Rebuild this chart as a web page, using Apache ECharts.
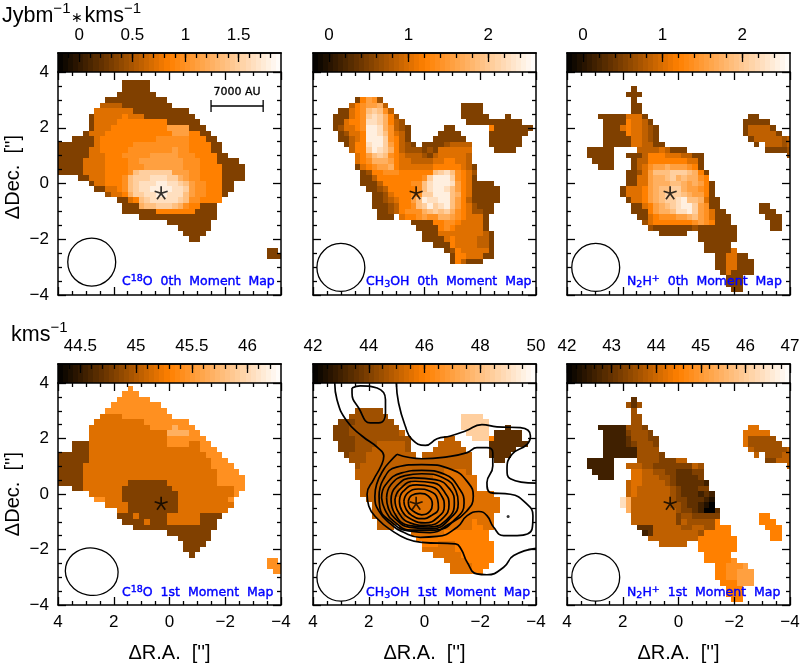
<!DOCTYPE html>
<html>

<head>
    <title>Moment maps</title>
    <meta charset="utf-8">
    <script src="https://cdnjs.cloudflare.com/ajax/libs/echarts/6.0.0/echarts.min.js"></script>
    <style>
        body { margin: 0; background: #fff; }
    </style>
</head>

<body>
    <div id="main" style="width: 803px;height:664px;"></div>

    <script type="text/javascript">
        // maps are read off the picture, one string per row (Dec = 4 - 0.2*row), one char per column (R.A. = 4 - 0.2*col)
        // char = 16ths of the colorbar range, '.' = blank, spaces only help counting
        var levelChars = '0123456789abcdefg';

        var c18oMom0 = [
            '', '',
            '..... ..... ..444 44',
            '..... ..... ..444 44',
            '..... ..... .4444 444',
            '..... ....4 44444 44444',
            '..... ...66 66444 44444 4',
            '..... ..777 77774 44444 4444',
            '..... .4777 77877 74444 44444',
            '..... .4777 78888 88888 44444 4',
            '..... .4777 88888 88888 aaaa4 44',
            '..... 47778 88888 88888 8aaa8 844',
            '...44 44788 88888 88899 99998 8844',
            '44444 44788 88889 99999 99998 88844',
            '44444 47788 88899 99999 9a998 88844',
            '44444 47778 88999 99aaa aa999 88884 4',
            '44444 77778 88899 aaaaa aaa99 98884 444',
            '44444 77778 88899 9aaaa aaa99 98888 4444',
            '44444 77778 8889c ddddd daaa9 98888 4444',
            '....4 47778 889cd ddeee ddba9 98888 4444',
            '..... .4778 889cd eeeff eedca 99888 44',
            '..... ..447 789cd eefff feeda 99888 44',
            '..... ....5 778bd deeff eeeca 99888 4',
            '..... ..... .4478 cdeee eedc9 98888',
            '..... ..... ..444 bccdd dcb98 8444',
            '..... ..... ..444 44488 88888 4444',
            '..... ..... ..... 44444 44444 4444',
            '..... ..... ..... ..... 44444 444',
            '..... ..... ..... ..... ..444 444',
            '..... ..... ..... ..... ...44 44',
            '..... ..... ..... ..... ....4 4',
            '',
            '..... ..... ..... ..... ..... ..... ..... ...44',
            '..... ..... ..... ..... ..... ..... ..... ...44 4'
        ];

        var ch3ohMom0 = [
            '', '', '', '', '',
            '..... ...48 a95',
            '..... ..689 aab6. ..... ..... ..444 4',
            '..... 44789 cdc96 ..... ..... ..444 4',
            '....4 44789 dedb8 5.... ..... ..444 44... 4',
            '....4 47889 eedb8 65... ..... ...44 44444 444',
            '....4 57789 ffeb9 654.. ....4 4.... ..844 44444',
            '..... 45778 ffec9 764.. ...44 44... ..444 4444',
            '..... 44678 fffd9 864.. ..444 444.. ..444 444',
            '..... .4688 effda 8654. 44445 6666. ..444 444',
            '..... ..688 dfedb 86555 45477 7777. ...44 44',
            '..... ...78 acdc9 87666 54677 7776',
            '..... ...78 9bbba 87766 66778 8776',
            '..... ...47 89aab 87777 77888 88764',
            '..... ....4 58899 98888 88cde c9875',
            '..... ....4 46888 88888 9dfff d9874',
            '..... ....4 44688 88899 cefff ea874 444',
            '..... ..... 44568 88889 ceffe ca874 4444',
            '..... ..... .4457 88899 ddfff cb874 4444',
            '..... ..... .4456 788ac feeff ca864 4444',
            '..... ..... .4445 6889c dfdef ca875 444',
            '..... ..... ..445 68999 bcdcd b9875 544',
            '..... ..... ..444 .7889 a99bb a9877 74',
            '..... ..... ..... ...44 44889 98777 74',
            '..... ..... ..... ....4 44489 87777 74',
            '..... ..... ..... ..... 44477 77777 764',
            '..... ..... ..... ..... 44447 87777 664',
            '..... ..... ..... ..... ..444 87777 664',
            '..... ..... ..... ..... ....4 58777 774',
            '..... ..... ..... ..... ..... 48877 744',
            '..... ..... ..... ..... ..... 48644 4'
        ];

        var n2hMom0 = [
            '', '', '',
            '..... ..... ..4',
            '..... ..... .444',
            '..... ..... ..4',
            '..... ..... ..44',
            '..... ..... ..44',
            '..... .4444 47774 ..... ..... ..... ...44',
            '..... ..444 48776 4.... ..... ..... ..444 44',
            '..... ..444 78776 54... ..... ..... ..466 664',
            '..... ..444 48776 54... ..... ..... ..466 6664',
            '..... ..444 44776 54... ..... ..... ...46 66665 6',
            '..... ..444 44776 644.. ..... ..... ....4 .6665 6',
            '....4 4444. ...66 66764 44... ..... ..... .4444 5',
            '....4 4444. .4446 88877 76644 ..... ..... ..... 5',
            '..... 4444. ..466 88888 88774',
            '..... .444. ..467 9aaba aa984',
            '..... ..... .4457 acccd ddcb8 4',
            '..... ..... .4477 abbcd bcbb9 8',
            '..... ..... .4477 abbbc cbaba 84',
            '..... ..... 47778 abccd dbaa9 84',
            '..... ..... 47778 abcdd dcbaa 84',
            '..... ..... .4778 abcdd efccb 744',
            '..... ..... ..447 8abcd effda 944.. ..... 44',
            '..... ..... ..444 8abbc eefda 9744. ..... 444',
            '..... ..... ...44 78999 aabca 97444 ..... .444',
            '..... ..... ....5 78888 8889a 98444 ..... ..44',
            '..... ..... ..... 54444 44454 44444 4.... ..44',
            '..... ..... ..... ..444 44..4 44444 4',
            '..... ..... ..... ..... ....4 44444 4',
            '..... ..... ..... ..... ..... 44444',
            '..... ..... ..... ..... ..... 44444 7',
            '..... ..... ..... ..... ..... ..447 744',
            '..... ..... ..... ..... ..... ..447 7444',
            '..... ..... ..... ..... ..... ..447 7444',
            '..... ..... ..... ..... ..... ...47 4444',
            '..... ..... ..... ..... ..... ....4 44',
            '..... ..... ..... ..... ..... ....4 44',
            '..... ..... ..... ..... ..... ..... 44'
        ];

        var c18oMom1 = [
            '',
            '..... ..... ...9',
            '..... ..... ..999',
            '..... ..... .9999 99',
            '..... ..... 99999 9999',
            '..... ....9 99999 99999',
            '..... ...77 77999 99999 9',
            '..... ..777 77777 79999 9999',
            '..... .7777 77777 77999 9b999',
            '..... .7777 77777 77777 bbbb9 9',
            '..... .7777 77777 77777 99999 99',
            '...44 47777 77777 77777 99997 799',
            '...44 47777 77777 77777 77777 7999',
            '44444 47777 77777 77777 77777 77999',
            '44444 47777 77777 77777 77777 77799 9',
            '44444 77777 77777 77777 77777 77799 99',
            '44444 77777 77777 77777 77777 77779 999',
            '44444 77777 77777 77777 77777 77779 9999',
            '44444 77777 77744 44444 77777 77779 9999',
            '...44 77777 77444 44444 47777 77777 7799',
            '..... .7777 77444 44444 44777 77777 779',
            '..... ..997 77444 44444 44777 77777 79',
            '..... ....7 77744 44444 44777 77777 77',
            '..... ..... .7744 44444 44777 77777 7',
            '..... ..... .4447 44444 77777 74444',
            '..... ..... ..444 47444 77777 7444',
            '..... ..... ....4 44444 44444 4444',
            '..... ..... ..... ..... 44444 444',
            '..... ..... ..... ..... ..444 444',
            '..... ..... ..... ..... ...44 44',
            '..... ..... ..... ..... ...44 4',
            '..... ..... ..... ..... ....4',
            '..... ..... ..... ..... ..... ..... ..... ...99',
            '..... ..... ..... ..... ..... ..... ..... ...99 9',
            '..... ..... ..... ..... ..... ..... ..... ....9 9'
        ];

        var ch3ohMom1 = [
            '', '', '', '', '',
            '..... ...55 555',
            '..... ..555 5555. ..... ..... ..ddd d',
            '..... 44455 55555 ..... ..... ..ddd dd',
            '....4 44555 55555 5.... ..... ..ddd dd... 3',
            '....4 44555 55555 56... ..... ...dd dd.33 333',
            '....4 44455 55555 555.. ....6 6...d dd833 333',
            '..... 44455 55666 665.. ...66 66... ..333 3333',
            '..... 44455 56666 665.. ..666 666.. ..333 33',
            '..... .4555 66666 6666. 66666 6666. ..333 3',
            '..... ..555 66666 66666 66666 6666. ...33',
            '..... ...56 66666 66666 66666 6666',
            '..... ...66 66666 66666 66667 7776',
            '..... ...66 66666 66666 66777 77777',
            '..... ....6 66666 66677 77777 77777',
            '..... ....6 66666 67777 77777 77777',
            '..... ....6 66666 67777 77777 77777 777',
            '..... ..... 66666 77777 77777 77777 7777',
            '..... ..... .6666 77777 77777 77777 7777',
            '..... ..... .6666 77777 77777 77777 7777',
            '..... ..... .6666 66777 77777 77777 777',
            '..... ..... ..666 66777 77777 77778 777',
            '..... ..... ..666 .6777 77777 77778 877',
            '..... ..... ..... ...77 77778 88888 88',
            '..... ..... ..... ....8 88888 88888 88',
            '..... ..... ..... ..... 88877 78888 888',
            '..... ..... ..... ..... 77777 78888 888',
            '..... ..... ..... ..... ..777 77888 888',
            '..... ..... ..... ..... ....7 77788 888',
            '..... ..... ..... ..... ..... 77778 88',
            '..... ..... ..... ..... ..... 77778 8'
        ];

        var n2hMom1 = [
            '', '', '',
            '..... ..... ..3',
            '..... ..... .535',
            '..... ..... ..5',
            '..... ..... ..55',
            '..... ..... ..55',
            '..... .2222 25554 ..... ..... ..... ...77',
            '..... ..222 24555 4.... ..... ..... ..777 77',
            '..... ..222 23555 44... ..... ..... ..755 555',
            '..... ..222 23455 54... ..... ..... ..755 5555',
            '..... ..222 22255 55... ..... ..... ...65 55555 6',
            '..... ..222 22255 554.. ..... ..... ....6 .5556 6',
            '....2 2222. ...55 55444 66... ..... ..... .4466 6',
            '....2 2222. .6665 54444 44465 ..... ..... ..... 6',
            '..... 2222. ..776 65544 33344',
            '..... .222. ..776 66554 33334',
            '..... ..... .6776 66654 33333 2',
            '..... ..... .6766 66665 43334 4',
            '..... ..... .6766 66665 43332 32',
            '..... ..... eb666 66665 44333 21',
            '..... ..... eb666 66665 54332 10',
            '..... ..... .b666 66666 54432 003',
            '..... ..... ..666 66666 45544 444.. ..... 88',
            '..... ..... ..666 66666 46555 558.. ..... 888',
            '..... ..... ...33 36666 65566 55888 ..... .888',
            '..... ..... ....2 36666 66665 88888 ..... ..88',
            '..... ..... ..... 66666 66668 88888 8.... ..88',
            '..... ..... ..... ..666 66..8 88888 8',
            '..... ..... ..... ..... ....8 88888 8',
            '..... ..... ..... ..... ..... 88888',
            '..... ..... ..... ..... ..... 88888 9',
            '..... ..... ..... ..... ..... ..889 99a',
            '..... ..... ..... ..... ..... ..889 9aaa',
            '..... ..... ..... ..... ..... ..889 9aaa',
            '..... ..... ..... ..... ..... ...88 8aaa',
            '..... ..... ..... ..... ..... ....8 88',
            '..... ..... ..... ..... ..... ....8 88',
            '..... ..... ..... ..... ..... ..... 88'
        ];

        // colorbar ranges and ticks
        var barRanges = [[-0.2, 1.9], [-0.2, 2.6], [-0.2, 2.6], [44.3, 46.3], [42, 50], [42, 47]];
        var barLabels = [
            [0, 0.5, 1, 1.5],
            [0, 1, 2],
            [0, 1, 2],
            [44.5, 45, 45.5, 46],
            [42, 44, 46, 48, 50],
            [42, 43, 44, 45, 46, 47]
        ];
        var barMinor = [
            [-0.1, 0, 0.1, 0.2, 0.3, 0.4, 0.5, 0.6, 0.7, 0.8, 0.9, 1, 1.1, 1.2, 1.3, 1.4, 1.5, 1.6, 1.7, 1.8],
            [0, 0.2, 0.4, 0.6, 0.8, 1, 1.2, 1.4, 1.6, 1.8, 2, 2.2, 2.4],
            [0, 0.2, 0.4, 0.6, 0.8, 1, 1.2, 1.4, 1.6, 1.8, 2, 2.2, 2.4],
            [44.4, 44.5, 44.6, 44.7, 44.8, 44.9, 45, 45.1, 45.2, 45.3, 45.4, 45.5, 45.6, 45.7, 45.8, 45.9, 46, 46.1, 46.2],
            [42.5, 43, 43.5, 44, 44.5, 45, 45.5, 46, 46.5, 47, 47.5, 48, 48.5, 49, 49.5],
            [42.2, 42.4, 42.6, 42.8, 43, 43.2, 43.4, 43.6, 43.8, 44, 44.2, 44.4, 44.6, 44.8, 45, 45.2, 45.4, 45.6, 45.8, 46, 46.2, 46.4, 46.6, 46.8]
        ];

        // beam: ra, dec, radius ra, radius dec, tilt
        var beams = [
            [2.79, -2.82, 0.86, 0.86, 0],
            [3.0, -3.01, 0.86, 0.86, 0],
            [2.97, -3.01, 0.86, 0.86, 0],
            [2.79, -2.8, 0.95, 0.85, -0.2],
            [3.0, -3.0, 0.86, 0.86, 0],
            [2.97, -3.0, 0.86, 0.86, 0]
        ];
        var starPos = [0.3, -0.33];
        var scaleBar = [-1.49, -3.36, 2.78];
        var scaleBarText = '7000 AU';

        // CH3OH contours on the 1st moment panel, [ra, dec]
        var contourOpen1 = [[3.22, 4], [3.14, 3.40], [2.78, 2.62], [2.24, 2.09], [1.68, 1.67], [1.46, 1.37], [1.56, 1.01], [1.82, 0.53], [2.06, -0.01], [2.00, -0.43], [1.68, -0.90], [1.17, -1.32], [0.63, -1.62], [0.09, -1.74], [-1.11, -1.80], [-1.31, -1.98], [-1.53, -2.46], [-1.88, -2.88], [-2.24, -2.91], [-2.84, -2.64], [-3.20, -2.22], [-4, -1.96]];
        var contourOpen2 = [[1.01, 4], [0.93, 3.28], [0.69, 2.45], [0.45, 1.97], [-0.03, 1.75], [-0.45, 1.99], [-0.93, 2.09], [-1.47, 2.27], [-2.06, 2.50], [-2.60, 2.42], [-3.44, 2.39], [-3.80, 2.09], [-3.68, 1.79], [-3.14, 1.43], [-2.96, 0.89], [-3.08, 0.55], [-4, 0.39]];
        var contourTop = [[2.60, 3.82], [2.30, 3.90], [1.70, 3.82], [1.40, 3.40], [1.40, 2.92], [1.64, 2.56], [1.94, 2.56], [2.36, 3.10], [2.60, 3.64], [2.60, 3.82]];
        var contourWide = [[0.99, 1.43], [0.09, 1.27], [-0.81, 1.34], [-1.53, 1.49], [-1.88, 1.67], [-2.24, 1.67], [-2.45, 1.49], [-2.45, 1.01], [-2.24, 0.41], [-2.36, 0.05], [-3.08, -0.01], [-3.62, -0.31], [-3.89, -0.78], [-3.86, -1.26], [-3.32, -1.50], [-2.84, -1.50], [-2.48, -1.20], [-2.24, -0.78], [-1.95, -0.63], [-1.53, -0.78], [-1.17, -1.20], [-0.45, -1.53], [0.15, -1.56], [0.75, -1.38], [1.22, -1.08], [1.64, -0.61], [1.78, -0.08], [1.72, 0.34], [1.46, 0.89], [1.22, 1.19], [0.99, 1.43]];
        var contourRings = [
            [[1.63, -0.08], [1.48, 0.52], [1.00, 0.97], [0.10, 1.06], [-0.98, 0.88], [-1.57, 0.40], [-1.75, -0.08], [-1.51, -0.62], [-0.85, -1.10], [-0.20, -1.39], [0.58, -1.33], [1.24, -0.97], [1.60, -0.50], [1.63, -0.08]],
            [[1.54, -0.14], [1.39, 0.34], [0.82, 0.76], [0.10, 0.85], [-0.74, 0.70], [-1.27, 0.16], [-1.42, -0.32], [-1.15, -0.86], [-0.38, -1.30], [0.46, -1.30], [1.12, -0.97], [1.42, -0.56], [1.54, -0.14]],
            [[1.36, -0.14], [1.20, 0.34], [0.70, 0.66], [0.10, 0.73], [-0.68, 0.58], [-1.13, 0.10], [-1.21, -0.32], [-0.98, -0.82], [-0.26, -1.25], [0.52, -1.20], [1.08, -0.86], [1.30, -0.50], [1.36, -0.14]],
            [[1.20, -0.20], [1.03, 0.26], [0.40, 0.58], [-0.38, 0.52], [-0.92, 0.16], [-1.07, -0.32], [-0.80, -0.92], [-0.14, -1.19], [0.58, -1.13], [1.08, -0.68], [1.20, -0.20]],
            [[1.06, -0.20], [0.88, 0.18], [0.34, 0.46], [-0.32, 0.40], [-0.74, 0.04], [-0.88, -0.38], [-0.64, -0.89], [-0.08, -1.13], [0.52, -1.04], [0.94, -0.65], [1.06, -0.20]],
            [[0.90, -0.26], [0.76, 0.10], [0.28, 0.33], [-0.26, 0.26], [-0.62, -0.08], [-0.71, -0.44], [-0.50, -0.82], [-0.02, -1.04], [0.46, -0.92], [0.80, -0.62], [0.90, -0.26]],
            [[0.74, -0.26], [0.60, 0.04], [0.22, 0.18], [-0.20, 0.10], [-0.47, -0.20], [-0.50, -0.50], [-0.26, -0.77], [0.10, -0.89], [0.46, -0.77], [0.67, -0.53], [0.74, -0.26]],
            [[0.58, -0.26], [0.46, -0.05], [0.16, 0.02], [-0.14, -0.08], [-0.28, -0.38], [-0.20, -0.62], [0.10, -0.75], [0.40, -0.62], [0.56, -0.44], [0.58, -0.26]]
        ];
        var contourDot = [[-3.0, -0.81]];

        var mapRows = [c18oMom0, ch3ohMom0, n2hMom0, c18oMom1, ch3ohMom1, n2hMom1];
        var panelLeft = [58, 313, 567, 58, 313, 567];
        var panelTop = [72, 72, 72, 383, 383, 383];
        var panelLabels = [
            '{t|C}{u|18}{t|O  0th  Moment  Map}',
            '{t|CH}{d|3}{t|OH  0th  Moment  Map}',
            '{t|N}{d|2}{t|H}{u|+}{t|  0th  Moment  Map}',
            '{t|C}{u|18}{t|O  1st  Moment  Map}',
            '{t|CH}{d|3}{t|OH  1st  Moment  Map}',
            '{t|N}{d|2}{t|H}{u|+}{t|  1st  Moment  Map}'
        ];
        var labelLeft = [122, 366, 627, 122, 366, 627];
        var labelTop = [274, 274, 274, 585, 585, 585];

        var plotSize = 223;
        var barHeight = 19;
        var axisZ = 8;
        var fontName = '"Liberation Sans", sans-serif';
        var tickFont = 17;

        function toCells(rows, range) {
            var cells = [];
            rows.forEach(function(row, r) {
                row.replace(/ /g, '').split('').forEach(function(ch, c) {
                    if (ch === '.') return;
                    cells.push([4 - 0.2 * c, 4 - 0.2 * r, range[0] + levelChars.indexOf(ch) / 16 * (range[1] - range[0])]);
                });
            });
            return cells;
        }

        function renderCell(params, api) {
            var p = api.coord([api.value(0), api.value(1)]);
            var s = api.size([0.2, 0.2]);
            // snap to whole pixels so neighbouring cells leave no seams
            var x0 = Math.round(p[0] - s[0] / 2), x1 = Math.round(p[0] + s[0] / 2);
            var y0 = Math.round(p[1] - s[1] / 2), y1 = Math.round(p[1] + s[1] / 2);
            return {
                type: 'rect',
                shape: { x: x0, y: y0, width: x1 - x0, height: y1 - y0 },
                style: { fill: api.visual('color') }
            };
        }

        function renderBarStep(params, api) {
            var a = api.coord([api.value(0), 0]);
            var b = api.coord([api.value(1), 1]);
            var x0 = Math.round(a[0]), x1 = Math.round(b[0]);
            return {
                type: 'rect',
                shape: { x: x0, y: b[1], width: x1 - x0, height: a[1] - b[1] },
                style: { fill: api.visual('color') }
            };
        }

        function renderBeam(params, api) {
            var p = api.coord([api.value(0), api.value(1)]);
            var s = api.size([api.value(2), api.value(3)]);
            return {
                type: 'ellipse',
                x: p[0],
                y: p[1],
                rotation: api.value(4),
                shape: { cx: 0, cy: 0, rx: s[0], ry: s[1] },
                style: { fill: 'none', stroke: '#000', lineWidth: 1.3 }
            };
        }

        function renderScaleBar(params, api) {
            var a = api.coord([api.value(0), api.value(2)]);
            var b = api.coord([api.value(1), api.value(2)]);
            var st = { stroke: '#000', lineWidth: 1.3 };
            return {
                type: 'group',
                children: [
                    { type: 'line', shape: { x1: a[0], y1: a[1], x2: b[0], y2: b[1] }, style: st },
                    { type: 'line', shape: { x1: a[0], y1: a[1] - 6, x2: a[0], y2: a[1] + 6 }, style: st },
                    { type: 'line', shape: { x1: b[0], y1: b[1] - 6, x2: b[0], y2: b[1] + 6 }, style: st },
                    {
                        type: 'text',
                        style: {
                            x: (a[0] + b[0]) / 2, y: a[1] - 14, text: scaleBarText,
                            fill: '#000', font: '11px "DejaVu Sans"',
                            stroke: '#000', lineWidth: 0.3,
                            textAlign: 'center', textVerticalAlign: 'middle'
                        }
                    }
                ]
            };
        }

        function plotAxis(gridIndex, dim, pos, labelled, name, namePad) {
            var ax = {
                type: 'value',
                gridIndex: gridIndex,
                position: pos,
                z: axisZ,
                min: -4,
                max: 4,
                interval: 2,
                inverse: dim === 'x',
                axisLine: { show: true, onZero: false, lineStyle: { color: '#000', width: 1.5 } },
                axisTick: { show: true, inside: true, length: 8, lineStyle: { color: '#000', width: 1.3 } },
                minorTick: { show: true, splitNumber: 4, length: 4, lineStyle: { color: '#000', width: 1.3 } },
                splitLine: { show: false },
                axisLabel: {
                    show: labelled,
                    color: '#000',
                    fontSize: tickFont,
                    fontFamily: fontName,
                    margin: 9,
                    formatter: function(v) { return String(v).replace('-', '\u2212'); }
                }
            };
            if (name) {
                ax.name = name;
                ax.nameLocation = 'middle';
                ax.nameGap = dim === 'x' ? 38 : 35;
                ax.nameTextStyle = { color: '#000', fontSize: 20, fontFamily: fontName, padding: namePad || 0 };
            }
            return ax;
        }

        var grids = [], xAxes = [], yAxes = [], series = [], visualMaps = [], titles = [];

        mapRows.forEach(function(rows, p) {
            var range = barRanges[p];
            var leftCol = p % 3 === 0;
            var bottomRow = p >= 3;

            // map grid
            grids.push({ left: panelLeft[p], top: panelTop[p], width: plotSize, height: plotSize });
            var g = grids.length - 1;
            var xIdx = xAxes.length, yIdx = yAxes.length;
            xAxes.push(plotAxis(g, 'x', 'bottom', bottomRow, bottomRow ? "\u0394R.A.  ['']" : null));
            xAxes.push(plotAxis(g, 'x', 'top', false));
            yAxes.push(plotAxis(g, 'y', 'left', leftCol, leftCol ? "\u0394Dec.  ['']" : null, bottomRow ? 0 : [0, 0, 0, 13]));
            yAxes.push(plotAxis(g, 'y', 'right', false));

            var heatIndex = series.length;
            series.push({
                type: 'custom',
                xAxisIndex: xIdx,
                yAxisIndex: yIdx,
                clip: true,
                renderItem: renderCell,
                encode: { x: 0, y: 1 },
                data: toCells(rows, range)
            });
            series.push({
                type: 'custom',
                xAxisIndex: xIdx,
                yAxisIndex: yIdx,
                clip: true,
                z: 5,
                renderItem: renderBeam,
                encode: { x: 0, y: 1 },
                data: [beams[p]]
            });
            if (p === 4) {
                [contourOpen1, contourOpen2, contourTop, contourWide].concat(contourRings).forEach(function(line) {
                    series.push({
                        type: 'line',
                        xAxisIndex: xIdx,
                        yAxisIndex: yIdx,
                        smooth: 0.5,
                        symbol: 'none',
                        z: 6,
                        lineStyle: { color: '#000', width: 1.7 },
                        data: line
                    });
                });
                series.push({
                    type: 'scatter',
                    xAxisIndex: xIdx,
                    yAxisIndex: yIdx,
                    symbolSize: 3,
                    z: 6,
                    itemStyle: { color: '#000' },
                    data: contourDot
                });
            }
            if (p === 0) {
                series.push({
                    type: 'custom',
                    xAxisIndex: xIdx,
                    yAxisIndex: yIdx,
                    z: 5,
                    renderItem: renderScaleBar,
                    encode: { x: [0, 1], y: 2 },
                    data: [scaleBar]
                });
            }
            series.push({
                type: 'scatter',
                xAxisIndex: xIdx,
                yAxisIndex: yIdx,
                symbol: 'path://M0 -10L0 0M-9.5 -3L0 0L9.5 -3M-6 8L0 0L6 8',
                symbolSize: 13,
                z: 7,
                itemStyle: { color: 'rgba(0,0,0,0)', borderColor: '#000', borderWidth: 1.7 },
                data: [starPos]
            });

            // colorbar grid
            grids.push({ left: panelLeft[p], top: panelTop[p] - barHeight, width: plotSize, height: barHeight });
            var bg = grids.length - 1;
            var barX = xAxes.length, barY = yAxes.length;
            var barLine = { show: true, onZero: false, lineStyle: { color: '#000', width: 1.5 } };
            xAxes.push({
                type: 'value',
                gridIndex: bg,
                position: 'top',
                z: axisZ,
                min: range[0],
                max: range[1],
                axisLine: barLine,
                axisTick: { show: true, inside: true, length: 9, customValues: barLabels[p], lineStyle: { color: '#000', width: 1.3 } },
                splitLine: { show: false },
                axisLabel: {
                    customValues: barLabels[p],
                    color: '#000',
                    fontSize: tickFont,
                    fontFamily: fontName,
                    margin: 9,
                    formatter: function(v) { return String(v); }
                }
            });
            xAxes.push({
                type: 'value',
                gridIndex: bg,
                position: 'top',
                z: axisZ,
                min: range[0],
                max: range[1],
                axisLine: barLine,
                axisTick: { show: true, inside: true, length: 5, customValues: barMinor[p], lineStyle: { color: '#000', width: 1.3 } },
                splitLine: { show: false },
                axisLabel: { show: false }
            });
            yAxes.push({ type: 'value', gridIndex: bg, z: axisZ, min: 0, max: 1, position: 'left', axisLine: barLine, axisTick: { show: false }, axisLabel: { show: false }, splitLine: { show: false } });
            yAxes.push({ type: 'value', gridIndex: bg, z: axisZ, min: 0, max: 1, position: 'right', axisLine: barLine, axisTick: { show: false }, axisLabel: { show: false }, splitLine: { show: false } });

            var steps = [];
            var nSteps = 44;
            for (var i = 0; i < nSteps; i++) {
                var v0 = range[0] + (range[1] - range[0]) * i / nSteps;
                var v1 = range[0] + (range[1] - range[0]) * (i + 1) / nSteps;
                steps.push([v0, v1, (v0 + v1) / 2]);
            }
            var barIndex = series.length;
            series.push({
                type: 'custom',
                xAxisIndex: barX,
                yAxisIndex: barY,
                renderItem: renderBarStep,
                encode: { x: [0, 1] },
                data: steps
            });

            visualMaps.push({
                type: 'continuous',
                show: false,
                seriesIndex: [heatIndex, barIndex],
                dimension: 2,
                min: range[0],
                max: range[1],
                inRange: { color: ['#000000', '#ff8000', '#ffffff'] }
            });

            var blue = { color: '#0000ff', fontWeight: 'normal', fontFamily: '"DejaVu Sans"', lineHeight: 16, textBorderColor: '#0000ff', textBorderWidth: 0.4 };
            titles.push({
                text: panelLabels[p],
                left: labelLeft[p],
                top: labelTop[p],
                padding: 0,
                textStyle: {
                    fontWeight: 'normal',
                    rich: {
                        t: Object.assign({ fontSize: 12.5, verticalAlign: 'middle' }, blue),
                        u: Object.assign({ fontSize: 9.5, verticalAlign: 'top' }, blue),
                        d: Object.assign({ fontSize: 9.5, verticalAlign: 'bottom' }, blue)
                    }
                }
            });
        });

        var unitRich = {
            a: { color: '#000', fontSize: 21.5, fontWeight: 'normal', fontFamily: fontName, lineHeight: 26, verticalAlign: 'bottom' },
            s: { color: '#000', fontSize: 15, fontWeight: 'normal', fontFamily: fontName, lineHeight: 26, verticalAlign: 'top' },
            m: { color: '#000', fontSize: 14, fontWeight: 'normal', fontFamily: fontName, lineHeight: 26, verticalAlign: 'bottom', padding: [0, 1, 2, 1] }
        };
        titles.push({ text: '{a|Jybm}{s|\u22121}{m|\u2217}{a|kms}{s|\u22121}', left: 2, top: 1, padding: 0, textStyle: { fontWeight: 'normal', rich: unitRich } });
        titles.push({ text: '{a|kms}{s|\u22121}', left: 11, top: 320, padding: 0, textStyle: { fontWeight: 'normal', rich: unitRich } });

        var myChart = echarts.init(document.getElementById('main'));
        myChart.setOption({
            animation: false,
            backgroundColor: '#fff',
            title: titles,
            grid: grids,
            xAxis: xAxes,
            yAxis: yAxes,
            visualMap: visualMaps,
            series: series
        });
    </script>
</body>

</html>
